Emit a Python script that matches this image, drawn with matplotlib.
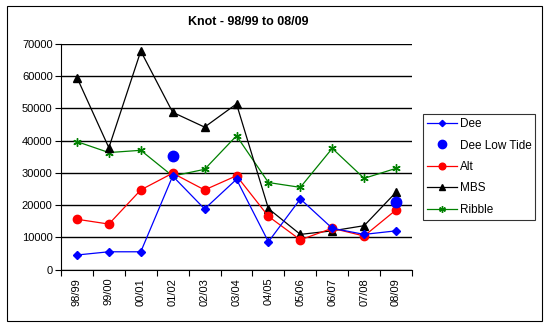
import matplotlib
matplotlib.use('Agg')
import matplotlib.pyplot as plt
from matplotlib.patches import Rectangle
import numpy as np

plt.rcParams['font.family'] = ['Liberation Sans', 'DejaVu Sans']

seasons = ['98/99', '99/00', '00/01', '01/02', '02/03', '03/04',
           '04/05', '05/06', '06/07', '07/08', '08/09']

dee = [4500, 5500, 5500, 29000, 18800, 28000, 8600, 21900, 12800, 10900, 12000]
dee_low_tide = [np.nan, np.nan, np.nan, 35300, np.nan, np.nan, np.nan, np.nan, np.nan, np.nan, 21000]
alt = [15600, 14100, 24700, 29900, 24700, 29100, 16500, 9200, 12800, 10400, 18500]
mbs = [59600, 37800, 67800, 48800, 44200, 51400, 18900, 10900, 12000, 13600, 24000]
ribble = [39700, 36300, 37000, 29000, 31100, 41500, 27000, 25500, 37600, 28300, 31400]

W, H = 548, 326
fig = plt.figure(figsize=(W / 100, H / 100), dpi=100)
ax = fig.add_axes([61 / W, 1 - 269.5 / H, (412 - 61) / W, (269.5 - 44) / H])

x = np.arange(len(seasons))

ax.plot(x, dee, color='#0000ff', marker='D', markersize=4, linewidth=0.9, label='Dee', zorder=5)
ax.plot(x, dee_low_tide, color='#0000ff', marker='o', markersize=7.5, linestyle='none', label='Dee Low Tide', zorder=6)
ax.plot(x, alt, color='#ff0000', marker='o', markersize=6, linewidth=0.9, label='Alt', zorder=4)
ax.plot(x, mbs, color='black', marker='^', markersize=6, linewidth=0.9, label='MBS', zorder=3)
ax.plot(x, ribble, color='#008000', marker=(6, 2, 0), markersize=6, markeredgewidth=1, linewidth=0.9, label='Ribble', zorder=2)

ax.set_xlim(-0.5, len(seasons) - 0.5)
ax.set_ylim(0, 70000)
ax.set_yticks(np.arange(0, 70001, 10000))
ax.set_xticks(x)
ax.set_xticklabels(seasons, rotation=90, fontsize=8)
ax.set_xticks(np.arange(-0.5, len(seasons)), minor=True)
ax.tick_params(axis='x', which='major', length=0, pad=6)
ax.tick_params(axis='x', which='minor', length=4, width=0.8, direction='out')
ax.tick_params(axis='y', length=4, width=0.8, labelsize=8, pad=2)

ax.yaxis.grid(True, color='black', linewidth=1)
ax.set_axisbelow(True)
for s in ['top', 'right']:
    ax.spines[s].set_visible(False)
ax.spines['left'].set_linewidth(0.8)
ax.spines['bottom'].set_linewidth(0.8)

fig.text(248 / W, 1 - 22 / H, 'Knot - 98/99 to 08/09', ha='center', va='center',
         fontsize=9, fontweight='bold')

leg = fig.legend(loc='upper left', bbox_to_anchor=(423 / W, 1 - 114 / H), fontsize=8.5,
                 frameon=True, fancybox=False, edgecolor='black', handlelength=2.5,
                 handletextpad=0.25, borderpad=0.35, labelspacing=0.8, borderaxespad=0,
                 markerscale=0.8)
leg.get_frame().set_linewidth(0.8)

fig.patches.append(Rectangle((7 / W, 1 - 321 / H), (542 - 7) / W, (321 - 6) / H,
                             transform=fig.transFigure, fill=False, edgecolor='black', linewidth=0.8))

fig.savefig('out.png', dpi=100)
